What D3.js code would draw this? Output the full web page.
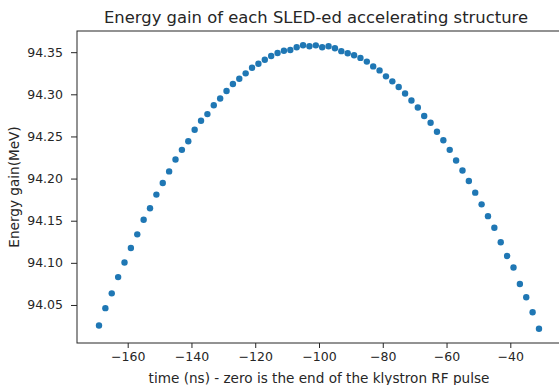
<!DOCTYPE html>
<html>
<head>
<meta charset="utf-8">
<script src="https://cdn.jsdelivr.net/npm/d3@7"></script>
<style>
  body { margin: 0; background: #fff; }
  svg { display: block; font-family: "DejaVu Sans", sans-serif; }
</style>
</head>
<body>
<svg id="chart" width="559" height="385"></svg>
<script>
// time of each sample (ns), 2 ns apart
const timeNs = d3.range(-169, -30, 2);

// energy gain (MeV)
const energyGain = [
  94.0256, 94.0462, 94.0638, 94.0831, 94.1004, 94.1176, 94.1338, 94.1511, 94.1648, 94.1810,
  94.1948, 94.2085, 94.2226, 94.2341, 94.2443, 94.2580, 94.2686, 94.2765, 94.2871, 94.2950,
  94.3040, 94.3123, 94.3184, 94.3249, 94.3316, 94.3363, 94.3410, 94.3455, 94.3491, 94.3517,
  94.3526, 94.3559, 94.3583, 94.3570, 94.3581, 94.3558, 94.3570, 94.3546, 94.3512, 94.3488,
  94.3463, 94.3432, 94.3388, 94.3331, 94.3284, 94.3213, 94.3154, 94.3087, 94.3009, 94.2927,
  94.2844, 94.2742, 94.2663, 94.2556, 94.2455, 94.2341, 94.2214, 94.2096, 94.1971, 94.1833,
  94.1694, 94.1554, 94.1417, 94.1244, 94.1082, 94.0945, 94.0748, 94.0591, 94.0414, 94.0217
];

const xTicks = [-160, -140, -120, -100, -80, -60, -40];
const yTicks = [94.05, 94.10, 94.15, 94.20, 94.25, 94.30, 94.35];

const titleText = 'Energy gain of each SLED-ed accelerating structure';
const xLabelText = 'time (ns) - zero is the end of the klystron RF pulse';
const yLabelText = 'Energy gain(MeV)';

const points = timeNs.map((t, i) => ({ t: t, e: energyGain[i] }));

// axes box (right side runs off the canvas like in the original)
const margin = { top: 31, left: 77 };
const plotW = 484;
const plotH = 312;

const svg = d3.select('#chart');
const chart = svg.append('g')
  .attr('transform', `translate(${margin.left},${margin.top})`);

// matplotlib-like 5% padding
const xExt = d3.extent(timeNs);
const xPad = (xExt[1] - xExt[0]) * 0.05;
const yExt = d3.extent(energyGain);
const yPad = (yExt[1] - yExt[0]) * 0.05;

const xScale = d3.scaleLinear()
  .domain([xExt[0] - xPad, xExt[1] + xPad])
  .range([0, plotW]);

const yScale = d3.scaleLinear()
  .domain([yExt[0] - yPad, yExt[1] + yPad])
  .range([plotH, 0]);

const fmtX = d => (d < 0 ? '\u2212' + Math.abs(d) : String(d));

const xAxis = d3.axisBottom(xScale)
  .tickValues(xTicks)
  .tickSize(5)
  .tickPadding(4)
  .tickFormat(fmtX);

const yAxis = d3.axisLeft(yScale)
  .tickValues(yTicks)
  .tickSize(6)
  .tickPadding(8)
  .tickFormat(d3.format('.2f'));

const gx = chart.append('g')
  .attr('transform', `translate(0,${plotH})`)
  .call(xAxis);

const gy = chart.append('g')
  .call(yAxis);

[gx, gy].forEach(g => {
  g.selectAll('text')
    .attr('font-family', '"DejaVu Sans", sans-serif')
    .attr('font-size', 12.5)
    .attr('fill', '#262626');
  g.selectAll('line').attr('stroke', '#262626').attr('stroke-width', 1);
  g.select('.domain').remove();
});

// frame
chart.append('rect')
  .attr('x', 0)
  .attr('y', 0)
  .attr('width', plotW)
  .attr('height', plotH)
  .attr('fill', 'none')
  .attr('stroke', '#262626')
  .attr('stroke-width', 1);

// scatter points
chart.selectAll('circle')
  .data(points)
  .enter()
  .append('circle')
  .attr('cx', d => xScale(d.t))
  .attr('cy', d => yScale(d.e))
  .attr('r', 3.2)
  .style('fill', '#1f77b4');

// title and labels
svg.append('text')
  .attr('x', margin.left + plotW / 2 - 3)
  .attr('y', 23)
  .attr('text-anchor', 'middle')
  .attr('font-size', 16.4)
  .attr('fill', '#262626')
  .text(titleText);

svg.append('text')
  .attr('x', margin.left + plotW / 2)
  .attr('y', 383)
  .attr('text-anchor', 'middle')
  .attr('font-size', 13.6)
  .attr('fill', '#262626')
  .text(xLabelText);

svg.append('text')
  .attr('transform', `translate(19,${margin.top + plotH / 2}) rotate(-90)`)
  .attr('text-anchor', 'middle')
  .attr('font-size', 13.6)
  .attr('fill', '#262626')
  .text(yLabelText);
</script>
</body>
</html>
